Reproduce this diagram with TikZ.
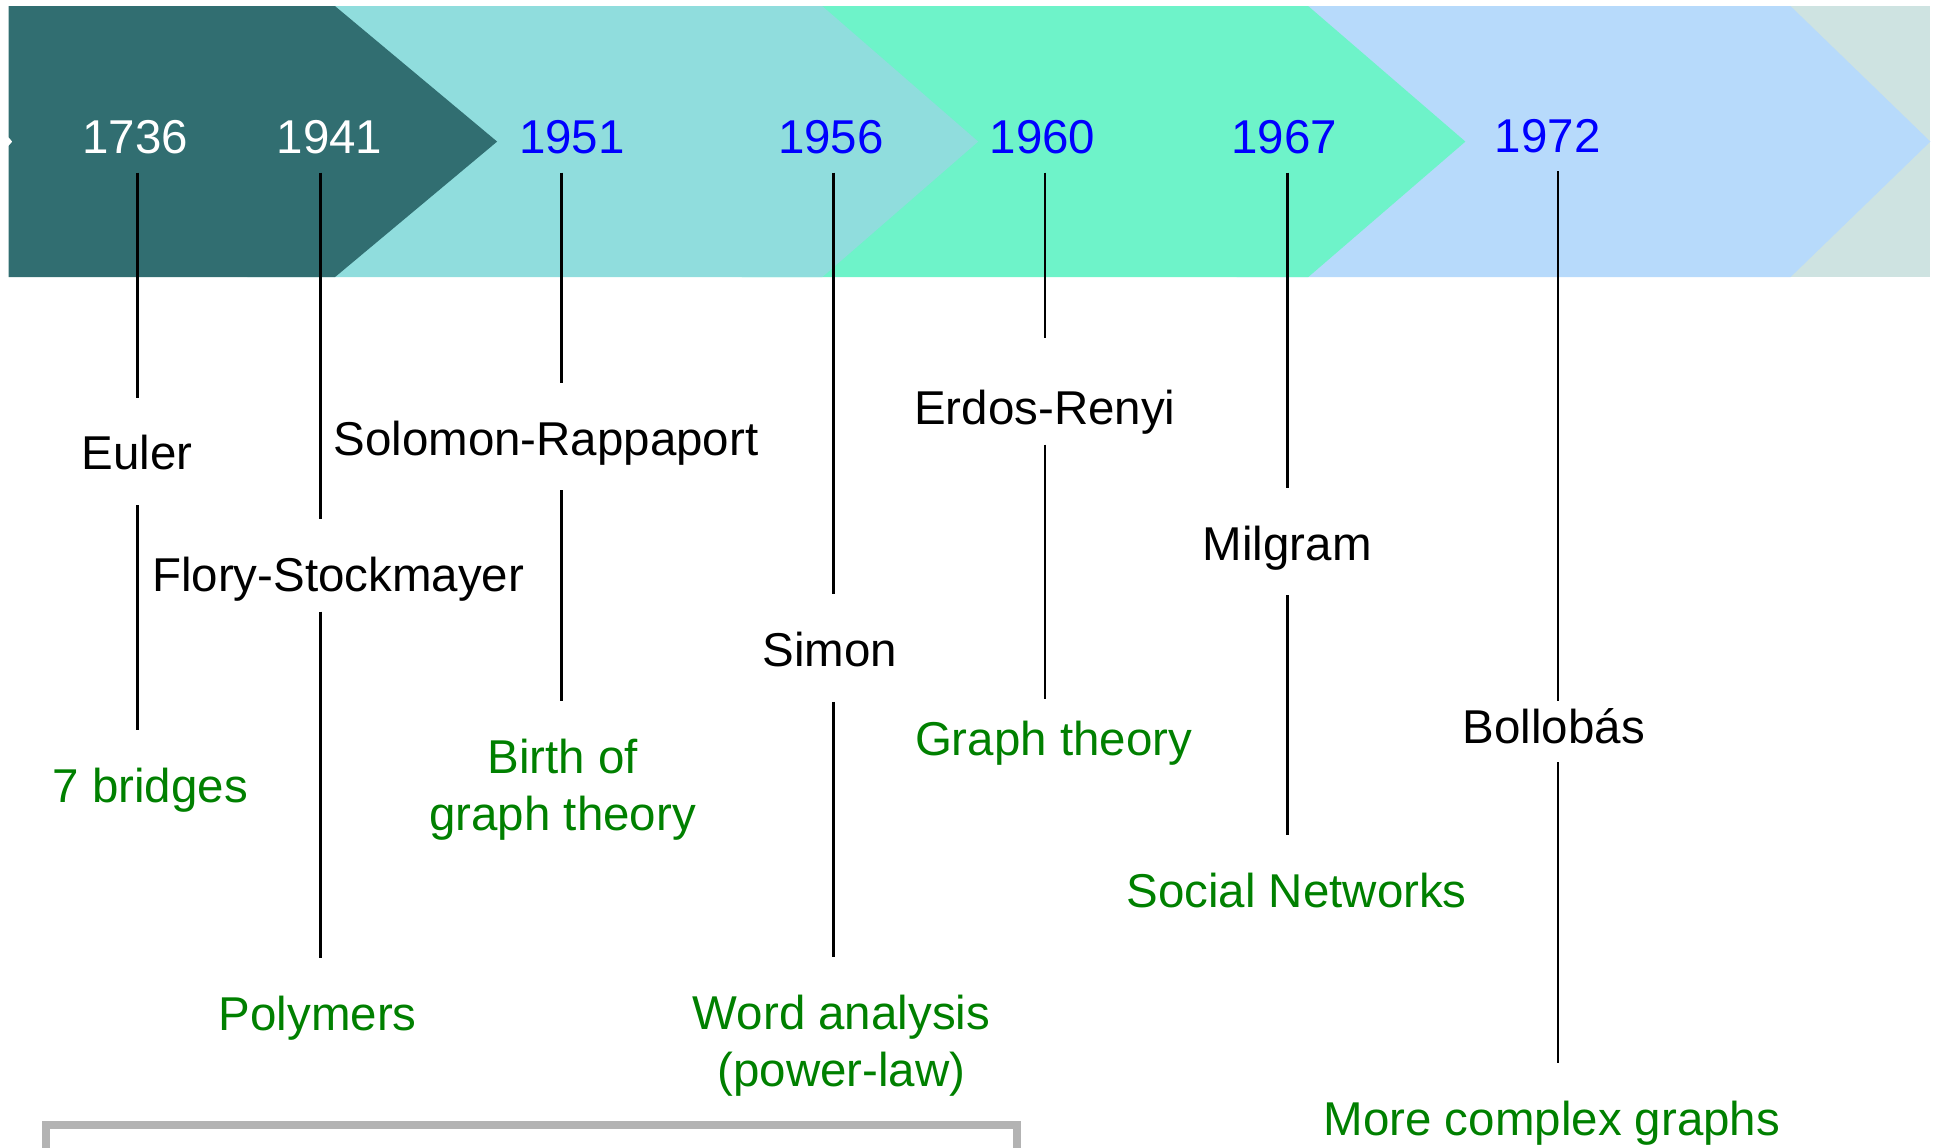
\documentclass[tikz,border=0pt]{standalone}
\usepackage{fontspec}
\setmainfont{Liberation Sans}
\newcommand{\slidefont}{\fontsize{28.8}{34.5}\selectfont}

\tikzset{every picture/.style={line width=0.75pt}}
\tikzset{
  yearlbl/.style={anchor=base, inner sep=0pt, text depth=11.25pt, font=\slidefont},
  namelbl/.style={anchor=base, inner xsep=2pt, inner ysep=0pt, text height=43.5pt, text depth=21pt, font=\slidefont},
  notelbl/.style={anchor=base, inner xsep=2pt, inner ysep=0pt, text height=43.5pt, font=\slidefont, text={rgb, 255:red, 0; green, 128; blue, 0 }},
  notepair/.style={anchor=north, align=center, inner xsep=2pt, inner ysep=22.5pt, font=\slidefont, text={rgb, 255:red, 0; green, 128; blue, 0 }},
  tick/.style={line width=1.6pt}
}

\begin{document}
\begin{tikzpicture}[x=0.75pt,y=0.75pt,yscale=-1,xscale=1]
    \useasboundingbox (0,0) rectangle (1568,928);

    %Shape: Rectangle
    \draw  [draw opacity=0][fill={rgb, 255:red, 206; green, 227; blue, 225 }  ,fill opacity=1 ] (1400,5) rectangle (1561,224) ;
    %Shape: Polygon
    \draw  [draw opacity=0][fill={rgb, 255:red, 183; green, 218; blue, 251 }  ,fill opacity=1 ] (1000,5) -- (1448,5) -- (1561,114.5) -- (1448,224) -- (1000,224) -- cycle ;
    %Shape: Polygon
    \draw  [draw opacity=0][fill={rgb, 255:red, 110; green, 243; blue, 201 }  ,fill opacity=1 ] (600,5) -- (1058,5) -- (1185,114.5) -- (1058,224) -- (600,224) -- cycle ;
    %Shape: Polygon
    \draw  [draw opacity=0][fill={rgb, 255:red, 144; green, 221; blue, 221 }  ,fill opacity=1 ] (200,5) -- (665,5) -- (791,114.5) -- (665,224) -- (200,224) -- cycle ;
    %Shape: Polygon
    \draw  [draw opacity=0][fill={rgb, 255:red, 49; green, 110; blue, 113 }  ,fill opacity=1 ] (7,5) -- (271,5) -- (402,114.5) -- (271,224) -- (7,224) -- (7,118) -- (10,114.5) -- (7,111) -- cycle ;

    %Shape: Frame
    \draw  [color={rgb, 255:red, 179; green, 179; blue, 179 }  ,line width=4.9pt ] (37,940) -- (37,910) -- (822.5,910) -- (822.5,940) ;

    % Text Node
    \draw (109.5,124) node (y1736) [yearlbl, text=white] {1736};
    % Text Node
    \draw (266.5,124) node (y1941) [yearlbl, text=white] {1941};
    % Text Node
    \draw (462.5,124) node (y1951) [yearlbl, text=blue] {1951};
    % Text Node
    \draw (672,124) node (y1956) [yearlbl, text=blue] {1956};
    % Text Node
    \draw (843,124) node (y1960) [yearlbl, text=blue] {1960};
    % Text Node
    \draw (1038.5,124) node (y1967) [yearlbl, text=blue] {1967};
    % Text Node
    \draw (1251.5,123) node (y1972) [yearlbl, text=blue] {1972};

    % Text Node
    \draw (111,380) node (euler) [namelbl] {Euler};
    % Text Node
    \draw (273.5,478) node (flory) [namelbl, text depth=12pt] {Flory-Stockmayer};
    % Text Node
    \draw (441.5,368) node (solomon) [namelbl] {Solomon-Rappaport};
    % Text Node
    \draw (671,539) node (simon) [namelbl] {Simon};
    % Text Node
    \draw (845,343) node (erdos) [namelbl, text height=51.75pt, text depth=12pt] {Erdos-Renyi};
    % Text Node
    \draw (1041,453) node (milgram) [namelbl] {Milgram};
    % Text Node
    \draw (1256.5,601) node (bollobas) [namelbl, text height=25.5pt, text depth=11.25pt] {Bollobás};

    % Text Node
    \draw (121.5,649) node (bridges) [notelbl] {7 bridges};
    % Text Node
    \draw (257,833) node (polymers) [notelbl] {Polymers};
    % Text Node
    \draw (455,567) node (birth) [notepair] {Birth of\\graph theory};
    % Text Node
    \draw (680.5,774) node (wordan) [notepair] {Word analysis\\(power-law)};
    % Text Node
    \draw (852,611) node (graphth) [notelbl, text height=33.75pt] {Graph theory};
    % Text Node
    \draw (1048.5,734) node (social) [notelbl] {Social Networks};
    % Text Node
    \draw (1255,918) node (complex) [notelbl] {More complex graphs};

    \coordinate (t1736) at (111,0);
    \coordinate (t1941) at (259,0);
    \coordinate (t1951) at (454,0);
    \coordinate (t1956) at (674,0);
    \coordinate (t1960) at (845,0);
    \coordinate (t1967) at (1041,0);
    \coordinate (t1972) at (1260,0);

    %Straight Lines
    \draw [tick] (y1736.south -| t1736) -- (euler.north -| t1736) ;
    \draw [tick] (euler.south -| t1736) -- (bridges.north -| t1736) ;
    %Straight Lines
    \draw [tick] (y1941.south -| t1941) -- (flory.north -| t1941) ;
    \draw [tick] (flory.south -| t1941) -- (polymers.north -| t1941) ;
    %Straight Lines
    \draw [tick] (y1951.south -| t1951) -- (solomon.north -| t1951) ;
    \draw [tick] (solomon.south -| t1951) -- (birth.north -| t1951) ;
    %Straight Lines
    \draw [tick] (y1956.south -| t1956) -- (simon.north -| t1956) ;
    \draw [tick] (simon.south -| t1956) -- (wordan.north -| t1956) ;
    %Straight Lines
    \draw [tick] (y1960.south -| t1960) -- (erdos.north -| t1960) ;
    \draw [tick] (erdos.south -| t1960) -- (graphth.north -| t1960) ;
    %Straight Lines
    \draw [tick] (y1967.south -| t1967) -- (milgram.north -| t1967) ;
    \draw [tick] (milgram.south -| t1967) -- (social.north -| t1967) ;
    %Straight Lines
    \draw [tick] (y1972.south -| t1972) -- (bollobas.north -| t1972) ;
    \draw [tick] (bollobas.south -| t1972) -- (complex.north -| t1972) ;
\end{tikzpicture}
\end{document}
